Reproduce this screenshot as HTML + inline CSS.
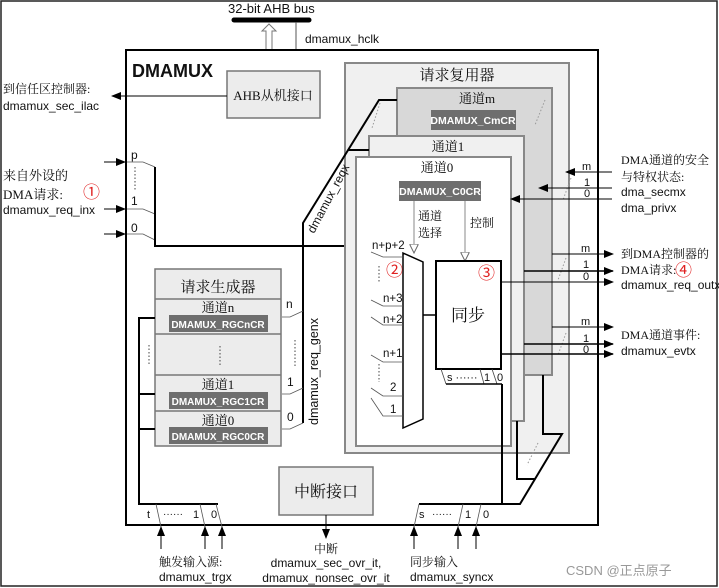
<!DOCTYPE html>
<html><head><meta charset="utf-8"><style>
html,body{margin:0;padding:0;background:#fff}
svg{display:block}
text{font-family:"Liberation Sans","Noto Sans CJK SC",sans-serif;fill:#111}
.cn{font-family:"Liberation Serif","Noto Serif CJK SC",serif;}
.w{fill:#fff;font-weight:bold;}
.r{fill:#e02020;}
</style></head><body>
<svg width="719" height="588" viewBox="0 0 719 588" xmlns="http://www.w3.org/2000/svg" font-size="12">
<defs>
<marker id="a" markerWidth="10" markerHeight="8" refX="9" refY="4" orient="auto" markerUnits="userSpaceOnUse"><path d="M0,0L10,4L0,8z" fill="#000"/></marker>
<marker id="h" markerWidth="10" markerHeight="9" refX="9" refY="4.5" orient="auto" markerUnits="userSpaceOnUse"><path d="M0,0L9,4.5L0,9z" fill="#fff" stroke="#666"/></marker>
</defs>
<rect x="1" y="1" width="716" height="585" fill="none" stroke="#222" stroke-width="1.5"/>
<text x="228" y="13" font-size="13">32-bit AHB bus</text>
<line x1="234" y1="20" x2="309" y2="20" stroke="#000" stroke-width="5" stroke-linecap="round"/>
<path d="M269,24 L276,31 L272,31 L272,64 L276,64 L269,71 L262,64 L266,64 L266,31 L262,31 Z" fill="#fff" stroke="#777"/>
<line x1="296" y1="22" x2="296" y2="71" stroke="#555" marker-end="url(#a)"/>
<text x="305" y="43">dmamux_hclk</text>
<rect x="126" y="50" width="472" height="475" fill="#fff" stroke="#000" stroke-width="2"/>
<text x="132" y="77" font-size="18" font-weight="bold">DMAMUX</text>
<rect x="227" y="71" width="93" height="47" fill="#ececec" stroke="#777" stroke-width="1.5"/>
<text x="273" y="100" class="cn" text-anchor="middle" font-size="13">AHB从机接口</text>
<line x1="227" y1="96" x2="112" y2="96" stroke="#000" marker-end="url(#a)"/>
<text x="3" y="93" class="cn">到信任区控制器:</text>
<text x="3" y="110">dmamux_sec_ilac</text>
<text x="3" y="180" class="cn" font-size="13">来自外设的</text>
<text x="3" y="199" class="cn" font-size="13">DMA请求:</text>
<text x="83" y="198" class="r" font-size="17">①</text>
<text x="3" y="214">dmamux_req_inx</text>
<line x1="104" y1="162" x2="125" y2="162" stroke="#000" marker-end="url(#a)"/>
<line x1="104" y1="209" x2="125" y2="209" stroke="#000" marker-end="url(#a)"/>
<line x1="104" y1="234" x2="125" y2="234" stroke="#000" marker-end="url(#a)"/>
<text x="131" y="159">p</text><text x="131" y="205">1</text><text x="131" y="232">0</text>
<line x1="135" y1="167" x2="135" y2="191" stroke="#444" stroke-dasharray="1.5,2"/>
<path d="M127,162H143L155,167M127,209H143L155,214M127,234H143L155,240" fill="none" stroke="#555" stroke-width="0.8"/>
<path d="M155,167V246H371V420" fill="none" stroke="#000" stroke-width="2"/>
<rect x="345" y="63" width="224" height="390" fill="#f0f0f0" stroke="#888" stroke-width="2"/>
<text x="457" y="80" class="cn" text-anchor="middle" font-size="15">请求复用器</text>
<rect x="397" y="88" width="155" height="287" fill="#d8d8d8" stroke="#888" stroke-width="2"/>
<text x="477" y="103" class="cn" text-anchor="middle" font-size="13">通道m</text>
<rect x="431" y="110" width="85" height="20" fill="#6e6e6e"/>
<text x="473" y="124" class="w" text-anchor="middle" font-size="10.5">DMAMUX_CmCR</text>
<rect x="369" y="136" width="155" height="285" fill="#f0f0f0" stroke="#888" stroke-width="2"/>
<text x="448" y="151" class="cn" text-anchor="middle" font-size="13">通道1</text>
<rect x="356" y="157" width="155" height="289" fill="#fff" stroke="#888" stroke-width="2"/>
<text x="437" y="172" class="cn" text-anchor="middle" font-size="13">通道0</text>
<rect x="399" y="181" width="82" height="20" fill="#6e6e6e"/>
<text x="440" y="195" class="w" text-anchor="middle" font-size="10.5">DMAMUX_C0CR</text>
<line x1="414" y1="201" x2="414" y2="253" stroke="#888" marker-end="url(#h)"/>
<line x1="465" y1="201" x2="465" y2="261" stroke="#888" marker-end="url(#h)"/>
<text x="418" y="220" class="cn">通道</text><text x="418" y="237" class="cn">选择</text>
<text x="470" y="227" class="cn">控制</text>
<path d="M380,103 L372,128 M545,100 L535,125 M571,178 L563,200 M566,258 L558,280 M566,333 L558,355 M538,443 L527,465" stroke="#999" stroke-dasharray="1.5,2" fill="none"/>
<path d="M403,253 L423,262 L423,419 L403,428 Z" fill="#fff" stroke="#000" stroke-width="1.5"/>
<g stroke="#555" stroke-width="0.8" fill="none">
<path d="M371,252 L383,257 H403"/>
<path d="M371,300 L383,306 H403"/>
<path d="M371,317 L383,325 H403"/>
<path d="M371,355 L383,362 H403"/>
<path d="M371,388 L383,396 H403"/>
<path d="M371,398 L383,416 H403"/>
</g>
<text x="372" y="249" font-size="11.5">n+p+2</text>
<text x="386" y="276" class="r" font-size="17">②</text>
<line x1="379" y1="266" x2="379" y2="282" stroke="#444" stroke-dasharray="1.5,2"/>
<text x="383" y="302" font-size="11.5">n+3</text>
<text x="383" y="323" font-size="11.5">n+2</text>
<text x="383" y="357" font-size="11.5">n+1</text>
<line x1="379" y1="364" x2="379" y2="382" stroke="#444" stroke-dasharray="1.5,2"/>
<text x="390" y="391" font-size="11.5">2</text>
<text x="390" y="413" font-size="11.5">1</text>
<line x1="423" y1="315" x2="436" y2="315" stroke="#000" stroke-width="1.5"/>
<rect x="436" y="261" width="65" height="108" fill="#fff" stroke="#000" stroke-width="2"/>
<text x="478" y="279" class="r" font-size="17">③</text>
<text x="468" y="321" class="cn" text-anchor="middle" font-size="17">同步</text>
<path d="M441,369L446,384 M480,369L484,384 M492,369L497,384" fill="none" stroke="#444" stroke-width="0.8"/>
<path d="M446,384H502" stroke="#000" stroke-width="1.5"/>
<path d="M502,384V504" stroke="#000" stroke-width="2" fill="none"/>
<text x="447" y="381" font-size="11">s ······</text><text x="484" y="381" font-size="11">1</text><text x="497" y="381" font-size="11">0</text>
<path d="M419,504H520L562,434H543V375 M517,421V479H535" fill="none" stroke="#000" stroke-width="2"/>
<path d="M303,423V223L379,100H397 M348,150H369" fill="none" stroke="#000" stroke-width="2"/>
<text transform="translate(314,234) rotate(-62)" font-size="12">dmamux_reqx</text>
<rect x="155" y="269" width="126" height="177" fill="#ececec" stroke="#777" stroke-width="1.5"/>
<line x1="155" y1="299" x2="281" y2="299" stroke="#777" stroke-width="1.5"/>
<line x1="155" y1="334" x2="281" y2="334" stroke="#777" stroke-width="1.5"/>
<line x1="155" y1="375" x2="281" y2="375" stroke="#777" stroke-width="1.5"/>
<line x1="155" y1="411" x2="281" y2="411" stroke="#777" stroke-width="1.5"/>
<text x="218" y="292" class="cn" text-anchor="middle" font-size="15">请求生成器</text>
<text x="218" y="312" class="cn" text-anchor="middle" font-size="13">通道n</text>
<rect x="169" y="315" width="99" height="17" fill="#6e6e6e"/><text x="218" y="328" class="w" text-anchor="middle" font-size="10">DMAMUX_RGCnCR</text>
<line x1="220" y1="346" x2="220" y2="366" stroke="#444" stroke-dasharray="1.5,2"/>
<text x="218" y="389" class="cn" text-anchor="middle" font-size="13">通道1</text>
<rect x="169" y="392" width="99" height="17" fill="#6e6e6e"/><text x="218" y="405" class="w" text-anchor="middle" font-size="10">DMAMUX_RGC1CR</text>
<text x="218" y="425" class="cn" text-anchor="middle" font-size="13">通道0</text>
<rect x="169" y="427" width="99" height="17" fill="#6e6e6e"/><text x="218" y="440" class="w" text-anchor="middle" font-size="10">DMAMUX_RGC0CR</text>
<path d="M282,317H290L303,311 M282,394H290L303,388 M282,429H290L303,423" fill="none" stroke="#555" stroke-width="0.8"/>
<text x="286" y="308">n</text><text x="287" y="386">1</text><text x="287" y="421">0</text>
<line x1="295" y1="340" x2="295" y2="366" stroke="#444" stroke-dasharray="1.5,2"/>
<text transform="translate(318,425) rotate(-90)" font-size="12.5">dmamux_req_genx</text>
<path d="M155,318H139V504H218 M139,394H155 M139,429H155" fill="none" stroke="#000" stroke-width="2"/>
<line x1="149" y1="345" x2="149" y2="366" stroke="#444" stroke-dasharray="1.5,2"/>
<path d="M156,504L161,527 M200,504L205,527 M216,504L222,527" stroke="#555" stroke-width="0.8"/>
<text x="147" y="518" font-size="11">t</text><text x="163" y="517" font-size="10">······</text><text x="193" y="518" font-size="11">1</text><text x="211" y="518" font-size="11">0</text>
<line x1="161" y1="549" x2="161" y2="527" stroke="#000" marker-end="url(#a)"/>
<line x1="205" y1="549" x2="205" y2="527" stroke="#000" marker-end="url(#a)"/>
<line x1="222" y1="549" x2="222" y2="527" stroke="#000" marker-end="url(#a)"/>
<text x="159" y="566" class="cn">触发输入源:</text>
<text x="159" y="581">dmamux_trgx</text>
<rect x="279" y="467" width="94" height="48" fill="#ececec" stroke="#777" stroke-width="1.5"/>
<text x="326" y="497" class="cn" text-anchor="middle" font-size="16">中断接口</text>
<line x1="326" y1="515" x2="326" y2="538" stroke="#000" marker-end="url(#a)"/>
<text x="326" y="553" class="cn" text-anchor="middle">中断</text>
<text x="326" y="567" text-anchor="middle">dmamux_sec_ovr_it,</text>
<text x="326" y="582" text-anchor="middle">dmamux_nonsec_ovr_it</text>
<path d="M414,527L419,504 M458,527L463,504 M476,527L481,504" stroke="#555" stroke-width="0.8"/>
<text x="419" y="518" font-size="11">s</text><text x="432" y="517" font-size="10">······</text><text x="465" y="518" font-size="11">1</text><text x="483" y="518" font-size="11">0</text>
<line x1="414" y1="549" x2="414" y2="527" stroke="#000" marker-end="url(#a)"/>
<line x1="458" y1="549" x2="458" y2="527" stroke="#000" marker-end="url(#a)"/>
<line x1="476" y1="549" x2="476" y2="527" stroke="#000" marker-end="url(#a)"/>
<text x="410" y="566" class="cn">同步输入</text>
<text x="410" y="581">dmamux_syncx</text>
<line x1="612" y1="172" x2="566" y2="172" stroke="#000" marker-end="url(#a)"/>
<line x1="612" y1="188" x2="539" y2="188" stroke="#000" marker-end="url(#a)"/>
<line x1="612" y1="199" x2="511" y2="199" stroke="#000" marker-end="url(#a)"/>
<text x="582" y="170" font-size="11">m</text><text x="584" y="186" font-size="11">1</text><text x="584" y="197" font-size="11">0</text>
<text x="621" y="164" class="cn">DMA通道的安全</text>
<text x="621" y="181" class="cn">与特权状态:</text>
<text x="621" y="196">dma_secmx</text>
<text x="621" y="212">dma_privx</text>
<line x1="552" y1="254" x2="613" y2="254" stroke="#000" marker-end="url(#a)"/>
<line x1="524" y1="271" x2="613" y2="271" stroke="#000" stroke-width="1.5" marker-end="url(#a)"/>
<line x1="501" y1="282" x2="613" y2="282" stroke="#000" marker-end="url(#a)"/>
<text x="581" y="252" font-size="11">m</text><text x="583" y="268" font-size="11">1</text><text x="583" y="280" font-size="11">0</text>
<text x="621" y="258" class="cn">到DMA控制器的</text>
<text x="621" y="274" class="cn">DMA请求:</text><text x="675" y="276" class="r" font-size="17">④</text>
<text x="621" y="289">dmamux_req_outx</text>
<line x1="552" y1="327" x2="613" y2="327" stroke="#000" marker-end="url(#a)"/>
<line x1="524" y1="344" x2="613" y2="344" stroke="#000" stroke-width="1.5" marker-end="url(#a)"/>
<line x1="501" y1="354" x2="613" y2="354" stroke="#000" stroke-width="1.5" marker-end="url(#a)"/>
<text x="581" y="325" font-size="11">m</text><text x="583" y="342" font-size="11">1</text><text x="583" y="353" font-size="11">0</text>
<text x="621" y="339" class="cn">DMA通道事件:</text>
<text x="621" y="355">dmamux_evtx</text>
<text x="566" y="575" style="fill:#999" font-size="13">CSDN @正点原子</text>
</svg>
</body></html>
